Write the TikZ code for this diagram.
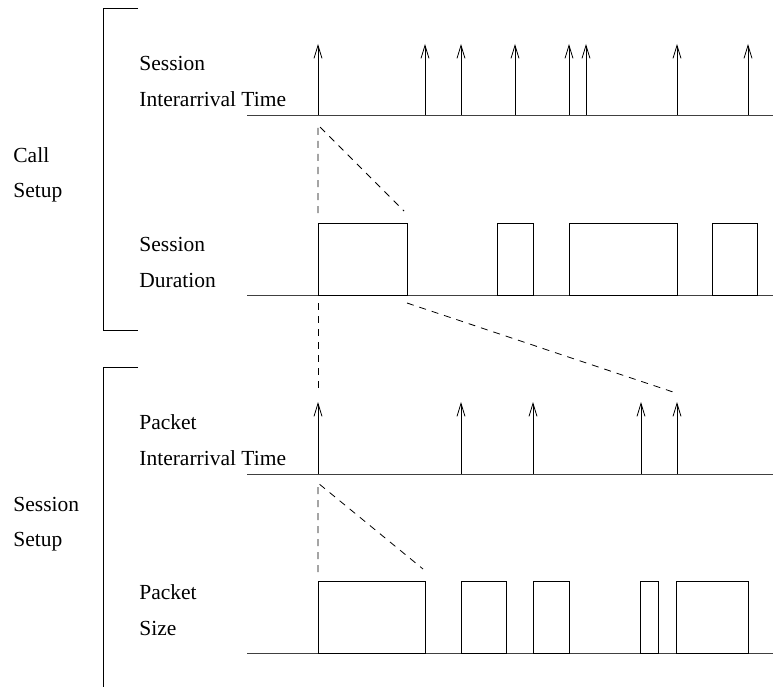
\documentclass[tikz,border=0pt]{standalone}
\usepackage{fontspec}
\setmainfont{Liberation Serif}
\usetikzlibrary{arrows.meta}
\begin{document}
\begin{tikzpicture}[x=1bp,y=-1bp,line width=0.8bp,
  lbl/.style={anchor=base west,inner sep=0pt,font=\fontsize{21.5bp}{26bp}\selectfont},
  axis/.style={draw=black!75},
  spike/.style={-{Straight Barb[length=13bp,width=8bp,line width=0.8bp]}},
  pulse/.style={draw=black},
  guide/.style={dash pattern=on 7bp off 6bp},
  brk/.style={draw=black}]
\useasboundingbox (0,0) rectangle (773,687);

% ---- labels
\node[lbl] (cs1) at (13,162) {Call};
\node[lbl] (cs2) at (13,197) {Setup};
\node[lbl] (ss1) at (13,511) {Session};
\node[lbl] (ss2) at (13,546) {Setup};
\node[lbl] (sia1) at (139,71) {Session};
\node[lbl] (sia2) at (139,107) {Interarrival Time};
\node[lbl] (sd1) at (139,251) {Session};
\node[lbl] (sd2) at (139,287) {Duration};
\node[lbl] (pia1) at (139,429) {Packet};
\node[lbl] (pia2) at (139,465) {Interarrival Time};
\node[lbl] (ps1) at (139,599) {Packet};
\node[lbl] (ps2) at (139,635) {Size};

% ---- brackets
\coordinate (b1a) at (138,8);  \coordinate (b1b) at (103,8);
\coordinate (b1c) at (103,330); \coordinate (b1d) at (138,330);
\draw[brk] (b1a) -- (b1b) -- (b1c) -- (b1d);
\coordinate (b2a) at (138,367); \coordinate (b2b) at (103,367);
\coordinate (b2c) at (103,687);
\draw[brk] (b2a) -- (b2b) -- (b2c);

% ---- baselines
\foreach \n/\y in {sia/115,sd/295,pia/474,ps/653}{
  \coordinate (\n L) at (247,\y);
  \coordinate (\n R) at (773,\y);
  \draw[axis] (\n L) -- (\n R);
}

% ---- session interarrival spikes
\foreach \x [count=\i] in {318,425,461,515,569,586,677,748}{
  \coordinate (sa\i) at (\x,115);
  \coordinate (st\i) at (\x,44);
  \draw[spike] (sa\i) -- (st\i);
}

% ---- session duration pulses
\foreach \a/\b [count=\i] in {318/407,497/533,569/677,712/757}{
  \draw[pulse] (\a,295) rectangle (\b,223);
}

% ---- packet interarrival spikes
\foreach \x [count=\i] in {318,461,533,641,677}{
  \coordinate (pa\i) at (\x,474);
  \coordinate (pt\i) at (\x,402);
  \draw[spike] (pa\i) -- (pt\i);
}

% ---- packet size pulses
\foreach \a/\b [count=\i] in {318/425,461/506,533/569,640/658,676/748}{
  \draw[pulse] (\a,653) rectangle (\b,581);
}

% ---- zoom guides
\coordinate (g1) at (318,125); \coordinate (g1v) at (318,213); \coordinate (g1d) at (404,211);
\draw[guide] (g1v) -- (g1) -- (g1d);
\coordinate (g2v0) at (318,303); \coordinate (g2v1) at (318,393);
\coordinate (g2d0) at (407,303); \coordinate (g2d1) at (673,392);
\draw[guide] (g2v0) -- (g2v1);
\draw[guide] (g2d0) -- (g2d1);
\coordinate (g3) at (318,483); \coordinate (g3v) at (318,572); \coordinate (g3d) at (423,569);
\draw[guide] (g3v) -- (g3) -- (g3d);
\end{tikzpicture}
\end{document}
